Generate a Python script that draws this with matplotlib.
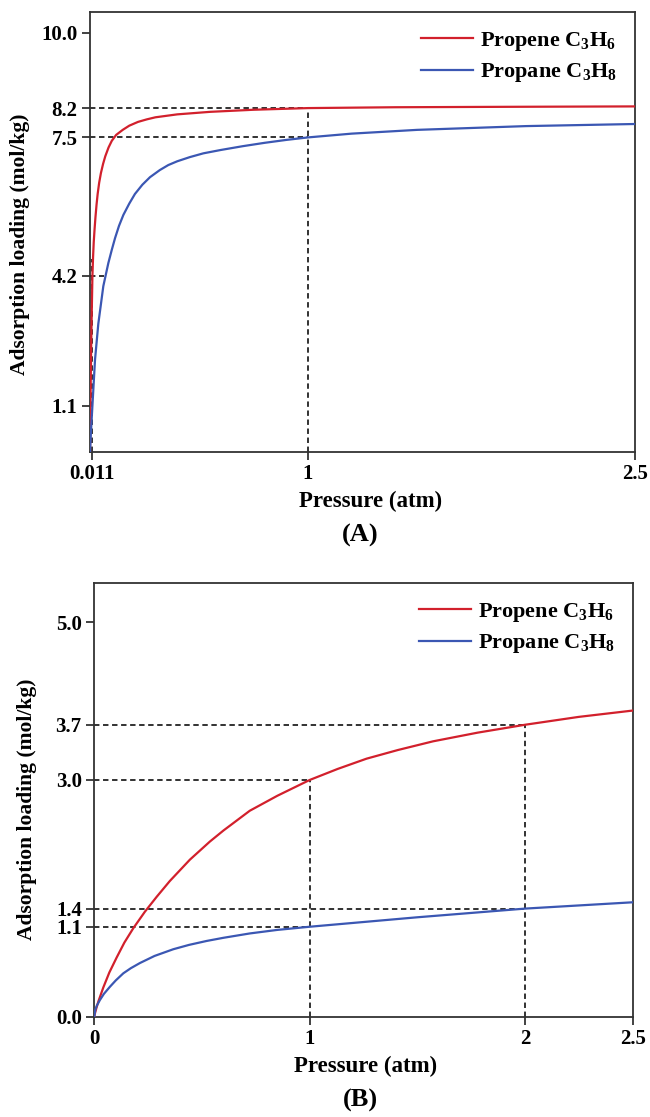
import matplotlib
matplotlib.use("Agg")
import matplotlib.pyplot as plt

plt.rcParams['font.family'] = ['Liberation Serif', 'DejaVu Serif']
plt.rcParams['font.weight'] = 'bold'
plt.rcParams['mathtext.fontset'] = 'custom'
plt.rcParams['mathtext.rm'] = 'Liberation Serif:bold'
plt.rcParams['mathtext.default'] = 'rm'

# panel A: 0 - 2.5 atm
a_p_propene = [0, 0.003, 0.006, 0.011, 0.014, 0.017, 0.021, 0.025, 0.03, 0.035,
               0.042, 0.05, 0.06, 0.07, 0.085, 0.1, 0.12, 0.15, 0.18, 0.22,
               0.26, 0.3, 0.4, 0.55, 0.75, 1.0, 1.4, 1.9, 2.5]
a_q_propene = [0, 1.6, 2.8, 4.2, 4.65, 5.0, 5.32, 5.6, 5.9, 6.15,
               6.42, 6.65, 6.87, 7.05, 7.26, 7.42, 7.56, 7.68, 7.78, 7.87,
               7.93, 7.98, 8.05, 8.11, 8.16, 8.2, 8.22, 8.23, 8.24]
a_p_propane = [0, 0.004, 0.011, 0.023, 0.038, 0.061, 0.084, 0.1, 0.115, 0.133,
               0.153, 0.18, 0.206, 0.24, 0.275, 0.32, 0.359, 0.4, 0.458, 0.52,
               0.6, 0.7, 0.8, 0.9, 1.0, 1.2, 1.5, 2.0, 2.5]
a_q_propane = [0, 0.45, 1.1, 2.2, 3.05, 3.95, 4.5, 4.82, 5.1, 5.39,
               5.65, 5.92, 6.15, 6.37, 6.55, 6.72, 6.84, 6.93, 7.03, 7.12,
               7.2, 7.29, 7.37, 7.44, 7.5, 7.59, 7.68, 7.77, 7.82]
a_yticks = [1.1, 4.2, 7.5, 8.2, 10.0]
a_yticklabels = ['1.1', '4.2', '7.5', '8.2', '10.0']
a_xticks = [0.011, 1, 2.5]
a_xticklabels = ['0.011', '1', '2.5']

# panel B
b_p_propene = [0, 0.004, 0.011, 0.02, 0.042, 0.07, 0.104, 0.14, 0.181, 0.235,
               0.29, 0.351, 0.444, 0.537, 0.6, 0.722, 0.85, 1.0, 1.13, 1.264,
               1.41, 1.573, 1.78, 2.0, 2.25, 2.5]
b_q_propene = [0, 0.05, 0.12, 0.2, 0.37, 0.56, 0.75, 0.94, 1.12, 1.33,
               1.52, 1.72, 1.99, 2.22, 2.36, 2.61, 2.8, 3.0, 3.14, 3.27,
               3.38, 3.49, 3.6, 3.7, 3.8, 3.88]
b_p_propane = [0, 0.005, 0.012, 0.026, 0.045, 0.073, 0.1, 0.135, 0.17, 0.212,
               0.28, 0.367, 0.44, 0.522, 0.6, 0.722, 0.85, 1.0, 1.25, 1.5,
               2.0, 2.5]
b_q_propane = [0, 0.09, 0.14, 0.21, 0.29, 0.38, 0.46, 0.55, 0.615, 0.68,
               0.77, 0.855, 0.91, 0.96, 1.0, 1.055, 1.1, 1.14, 1.2, 1.26,
               1.37, 1.45]
b_yticks = [0.0, 1.14, 1.37, 3.0, 3.7, 5.0]
b_yticklabels = ['0.0', '1.1', '1.4', '3.0', '3.7', '5.0']
b_xticks = [0, 1, 2, 2.5]
b_xticklabels = ['0', '1', '2', '2.5']

RED = '#d2202c'
BLUE = '#3b57b3'
DASH = dict(color='#222222', lw=1.3, ls=(0, (3, 2)), zorder=1)

fig = plt.figure(figsize=(6.5, 11.17), dpi=100)
axA = fig.add_axes([0.1385, 0.5957, 0.8385, 0.3938])
axB = fig.add_axes([0.145, 0.0898, 0.8284, 0.3885])


def style(ax, ylab_xy, xlab_xy):
    for s in ax.spines.values():
        s.set_color('#333333')
        s.set_linewidth(1.3)
    ax.tick_params(direction='out', length=6, width=1.3, color='#333333',
                   labelsize=15, pad=3)
    ax.set_xlabel('Pressure (atm)', fontsize=16.5, fontweight='bold', va='center')
    ax.set_ylabel('Adsorption loading (mol/kg)', fontsize=15.5, fontweight='bold',
                  va='center')
    ax.yaxis.set_label_coords(*ylab_xy)
    ax.xaxis.set_label_coords(*xlab_xy)
    ax.legend(loc='upper right', frameon=False, fontsize=16, handlelength=2.35,
              handletextpad=0.3, labelspacing=0.4, borderaxespad=0.4)


# --- A
axA.plot([0, 1], [8.2, 8.2], **DASH)
axA.plot([0, 1], [7.5, 7.5], **DASH)
axA.plot([1, 1], [0, 8.2], **DASH)
axA.plot([0, 0.065], [4.2, 4.2], **DASH)
axA.plot([0.011, 0.011], [0, 4.6], **DASH)
axA.plot(a_p_propene, a_q_propene, color=RED, lw=1.6, label='Propene C$_3$H$_6$', zorder=3)
axA.plot(a_p_propane, a_q_propane, color=BLUE, lw=1.6, label='Propane C$_3$H$_8$', zorder=3)
axA.set_xlim(0, 2.5)
axA.set_ylim(0, 10.5)
axA.set_yticks(a_yticks)
axA.set_yticklabels(a_yticklabels)
axA.set_xticks(a_xticks)
axA.set_xticklabels(a_xticklabels)
style(axA, (-0.128, 0.472), (0.514, -0.114))
fig.text(0.554, 0.521, '(A)', ha='center', va='center', fontsize=19, fontweight='bold')

# --- B
axB.plot([0, 2], [3.7, 3.7], **DASH)
axB.plot([2, 2], [0, 3.7], **DASH)
axB.plot([0, 1], [3.0, 3.0], **DASH)
axB.plot([1, 1], [0, 3.0], **DASH)
axB.plot([0, 2], [1.37, 1.37], **DASH)
axB.plot([0, 1], [1.14, 1.14], **DASH)
axB.plot(b_p_propene, b_q_propene, color=RED, lw=1.6, label='Propene C$_3$H$_6$', zorder=3)
axB.plot(b_p_propane, b_q_propane, color=BLUE, lw=1.6, label='Propane C$_3$H$_8$', zorder=3)
axB.set_xlim(0, 2.5)
axB.set_ylim(0, 5.5)
axB.set_yticks(b_yticks)
axB.set_yticklabels(b_yticklabels)
axB.set_xticks(b_xticks)
axB.set_xticklabels(b_xticklabels)
style(axB, (-0.125, 0.479), (0.503, -0.114))
fig.text(0.554, 0.0152, '(B)', ha='center', va='center', fontsize=19, fontweight='bold')

fig.savefig('out.png', dpi=100)
